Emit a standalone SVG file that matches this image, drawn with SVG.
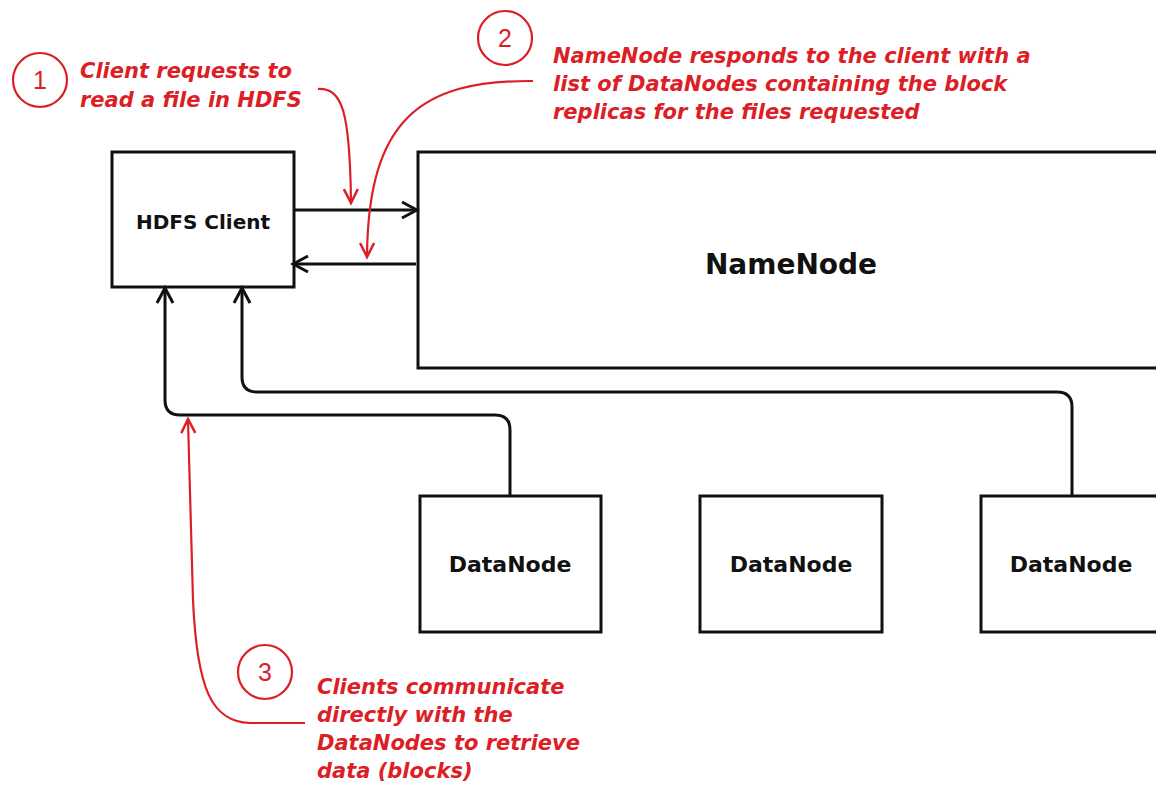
<svg xmlns="http://www.w3.org/2000/svg" width="1156" height="790" viewBox="0 0 1156 790">
<style>
.box{fill:#fff;stroke:#111;stroke-width:3}
.lbl{font-family:"DejaVu Sans",Verdana,sans-serif;font-weight:bold;fill:#111;text-anchor:middle}
.conn{fill:none;stroke:#111;stroke-width:3}
.red{fill:none;stroke:#dc1f26;stroke-width:2.2}
.note{font-family:"DejaVu Sans",Verdana,sans-serif;font-weight:bold;font-style:italic;font-size:21px;fill:#dc1f26}
.num{font-family:"Liberation Sans",Arial,sans-serif;font-size:25px;fill:#dc1f26;text-anchor:middle}
</style>
<defs>
<marker id="ab" markerUnits="userSpaceOnUse" markerWidth="20" markerHeight="20" viewBox="0 0 20 20" refX="17" refY="10" orient="auto">
<path d="M2,2 L17,10 L2,18" fill="none" stroke="#111" stroke-width="3"/>
</marker>
<marker id="ar" markerUnits="userSpaceOnUse" markerWidth="20" markerHeight="20" viewBox="0 0 20 20" refX="17" refY="10" orient="auto">
<path d="M3,3 L17,10 L3,17" fill="none" stroke="#dc1f26" stroke-width="2.5"/>
</marker>
</defs>
<rect width="1156" height="790" fill="#fff"/>

<g id="client">
<rect class="box" x="112" y="152" width="182" height="135"/>
<text class="lbl" x="203" y="229" font-size="20">HDFS Client</text>
</g>
<g id="namenode">
<rect class="box" x="418" y="152" width="760" height="216"/>
<text class="lbl" x="791" y="274" font-size="28">NameNode</text>
</g>
<g id="datanode1">
<rect class="box" x="420" y="496" width="181" height="136"/>
<text class="lbl" x="510" y="572" font-size="22">DataNode</text>
</g>
<g id="datanode2">
<rect class="box" x="700" y="496" width="182" height="136"/>
<text class="lbl" x="791" y="572" font-size="22">DataNode</text>
</g>
<g id="datanode3">
<rect class="box" x="981" y="496" width="200" height="136"/>
<text class="lbl" x="1071" y="572" font-size="22">DataNode</text>
</g>

<g id="connectors">
<path class="conn" d="M294,210 H417" marker-end="url(#ab)"/>
<path class="conn" d="M416,264 H293" marker-end="url(#ab)"/>
<path class="conn" d="M510,496 V430 Q510,415 495,415 H180 Q165,415 165,400 V288" marker-end="url(#ab)"/>
<path class="conn" d="M1072,496 V407 Q1072,392 1057,392 H257 Q242,392 242,377 V288" marker-end="url(#ab)"/>
</g>

<g id="annotations">
<circle class="red" cx="40" cy="80" r="27"/>
<text class="num" x="40" y="89">1</text>
<text class="note" x="80" y="78">Client requests to</text>
<text class="note" x="80" y="107">read a file in HDFS</text>
<path class="red" d="M318,89 C342,88 350,110 351,203" marker-end="url(#ar)"/>

<circle class="red" cx="505" cy="38" r="27"/>
<text class="num" x="505" y="47">2</text>
<text class="note" x="553" y="63">NameNode responds to the client with a</text>
<text class="note" x="553" y="91">list of DataNodes containing the block</text>
<text class="note" x="553" y="119">replicas for the files requested</text>
<path class="red" d="M533,81 C420,80 368,120 367,257" marker-end="url(#ar)"/>

<circle class="red" cx="265" cy="672" r="27"/>
<text class="num" x="265" y="681">3</text>
<text class="note" x="317" y="694">Clients communicate</text>
<text class="note" x="317" y="722">directly with the</text>
<text class="note" x="317" y="750">DataNodes to retrieve</text>
<text class="note" x="317" y="778">data (blocks)</text>
<path class="red" d="M305,723 H250 C212,722 197,690 193,600 C191,520 189,470 188,419" marker-end="url(#ar)"/>
</g>
</svg>
